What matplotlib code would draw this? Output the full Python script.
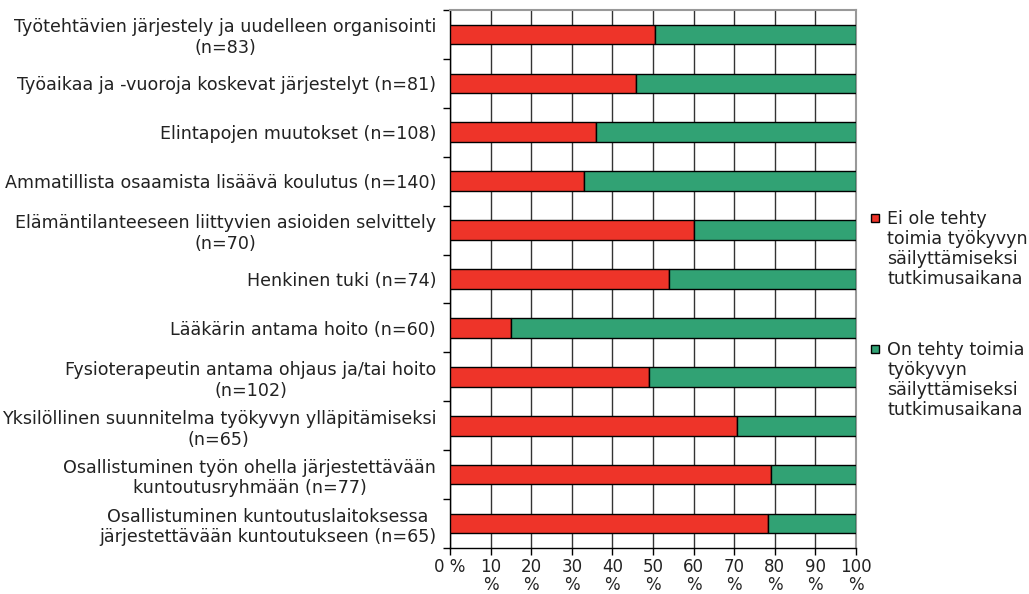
import matplotlib
matplotlib.use("Agg")
import matplotlib.pyplot as plt
from matplotlib.patches import Rectangle
import numpy as np

categories = [
    "Työtehtävien järjestely ja uudelleen organisointi\n(n=83)",
    "Työaikaa ja -vuoroja koskevat järjestelyt (n=81)",
    "Elintapojen muutokset (n=108)",
    "Ammatillista osaamista lisäävä koulutus (n=140)",
    "Elämäntilanteeseen liittyvien asioiden selvittely\n(n=70)",
    "Henkinen tuki (n=74)",
    "Lääkärin antama hoito (n=60)",
    "Fysioterapeutin antama ohjaus ja/tai hoito\n(n=102)",
    "Yksilöllinen suunnitelma työkyvyn ylläpitämiseksi\n(n=65)",
    "Osallistuminen työn ohella järjestettävään\nkuntoutusryhmään (n=77)",
    "Osallistuminen kuntoutuslaitoksessa\njärjestettävään kuntoutukseen (n=65)",
]
not_done = [50.5, 45.7, 36.0, 32.9, 60.0, 54.0, 15.0, 49.0, 70.7, 79.0, 78.3]
done = [100 - v for v in not_done]
series_labels = [
    "Ei ole tehty\ntoimia työkyvyn\nsäilyttämiseksi\ntutkimusaikana",
    "On tehty toimia\ntyökyvyn\nsäilyttämiseksi\ntutkimusaikana",
]
xtick_labels = ["0 %"] + [f"{v}\n%" for v in range(10, 101, 10)]

RED = "#EE3429"
GREEN = "#31A274"
TEXT = "#222222"
W, H = 1029, 594

plt.rcParams["font.family"] = ["DejaVu Sans"]

fig = plt.figure(figsize=(W / 100, H / 100), dpi=100)
ax = fig.add_axes([450 / W, 1 - 548 / H, 406 / W, 538 / H])

y = np.arange(len(categories))
ax.barh(y, not_done, height=0.4, color=RED, edgecolor="black", linewidth=1.0,
        zorder=3)
ax.barh(y, done, left=not_done, height=0.4, color=GREEN, edgecolor="black",
        linewidth=1.0, zorder=3)

ax.set_xlim(0, 100)
ax.set_ylim(len(categories) - 0.5, -0.5)
ax.set_xticks(range(0, 101, 10))
ax.set_xticklabels(xtick_labels, fontsize=12, color=TEXT, linespacing=1.0)
ax.set_yticks(y)
ax.set_yticklabels(categories, fontsize=12.6, color=TEXT, ha="right",
                   multialignment="center", linespacing=1.2)
ax.set_yticks(np.arange(-0.5, len(categories), 1.0), minor=True)
ax.tick_params(axis="y", which="major", length=0, pad=10)
ax.tick_params(axis="y", which="minor", length=5, width=1, color="black")
ax.tick_params(axis="x", length=5, width=1, color="black", pad=2.5)

ax.grid(axis="x", color="#333333", linewidth=1.0, zorder=0)
ax.set_axisbelow(True)
for side in ["top", "right"]:
    ax.spines[side].set_color("#999999")
    ax.spines[side].set_linewidth(1.5)
for side in ["left", "bottom"]:
    ax.spines[side].set_color("black")
    ax.spines[side].set_linewidth(1.0)

# legend drawn by hand so the square sits next to the first line
legend_tops = [210, 341]
for label, color, top in zip(series_labels, [RED, GREEN], legend_tops):
    fig.add_artist(Rectangle((871 / W, 1 - (top + 12) / H), 8 / W, 8 / H,
                             transform=fig.transFigure, facecolor=color,
                             edgecolor="black", linewidth=1.0))
    fig.text(887 / W, 1 - top / H, label, fontsize=12.6, color=TEXT,
             va="top", ha="left", linespacing=1.15)

fig.savefig("out.png", dpi=100)
